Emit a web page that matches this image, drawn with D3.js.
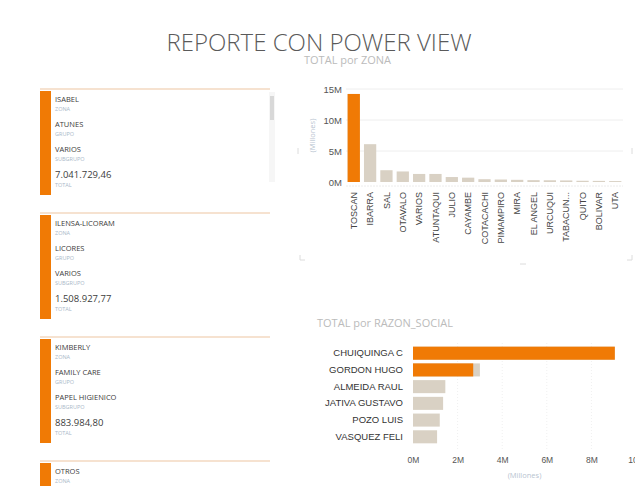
<!DOCTYPE html>
<html lang="es">
<head>
  <meta charset="UTF-8">
  <title>Reporte con Power View</title>
  <style>
    * { padding: 0; margin: 0; }
    html, body { width: 100%; height: 100%; background: #fff; }
    svg { display: block; font-family: "Open Sans", "DejaVu Sans", sans-serif; }
    .tick line { stroke: none; }
    .domain { display: none; }
  </style>
</head>
<body>
  <svg id="svg"></svg>
  <script src="https://cdnjs.cloudflare.com/ajax/libs/d3/7.8.5/d3.min.js"></script>
  <script>
    // tarjetas
    const cardZona = ['ISABEL', 'ILENSA-LICORAM', 'KIMBERLY', 'OTROS']
    const cardGrupo = ['ATUNES', 'LICORES', 'FAMILY CARE']
    const cardSubgrupo = ['VARIOS', 'VARIOS', 'PAPEL HIGIENICO']
    const cardTotal = ['7.041.729,46', '1.508.927,77', '883.984,80']

    // TOTAL por ZONA (millones)
    const zonas = ['TOSCAN', 'IBARRA', 'SAL', 'OTAVALO', 'VARIOS', 'ATUNTAQUI', 'JULIO', 'CAYAMBE', 'COTACACHI',
      'PIMAMPIRO', 'MIRA', 'EL ANGEL', 'URCUQUI', 'TABACUN...', 'QUITO', 'BOLIVAR', 'UTA']
    const zonaTotal = [14.2, 6.1, 1.9, 1.7, 1.3, 1.3, 0.8, 0.7, 0.45, 0.4, 0.35, 0.3, 0.28, 0.25, 0.2, 0.18, 0.15]
    const zonaHighlight = [14.2, 0, 0, 0, 0, 0, 0, 0, 0, 0, 0, 0, 0, 0, 0, 0, 0]
    const zonaTicks = [0, 5, 10, 15]

    // TOTAL por RAZON_SOCIAL (millones)
    const razones = ['CHUIQUINGA C', 'GORDON HUGO', 'ALMEIDA RAUL', 'JATIVA GUSTAVO', 'POZO  LUIS', 'VASQUEZ FELI']
    const razonTotal = [9.05, 3.0, 1.45, 1.35, 1.2, 1.08]
    const razonHighlight = [9.05, 2.7, 0, 0, 0, 0]
    const razonTicks = [0, 2, 4, 6, 8, 10]

    const orange = '#f07a05'
    const beige = '#d9d1c4'

    const svg = d3.select('#svg').attr('width', 635).attr('height', 486)

    svg.append('text')
      .attr('x', 319).attr('y', 51)
      .attr('text-anchor', 'middle')
      .attr('font-size', 24)
      .attr('font-weight', 300)
      .attr('fill', '#5a5a5a')
      .text('REPORTE CON POWER VIEW')

    // ---- tarjetas ----
    const cards = svg.append('g').attr('id', 'cards')
    cardZona.forEach((zona, i) => {
      const top = 89 + i * 124
      const g = cards.append('g').attr('transform', `translate(0, ${top})`)
      g.append('line').attr('x1', 40).attr('x2', 270).attr('y1', 0).attr('y2', 0)
        .attr('stroke', '#f3d9c0').attr('stroke-width', 1.5)
      g.append('rect').attr('x', 40).attr('y', 2).attr('width', 11)
        .attr('height', i < 3 ? 104 : 30).attr('fill', orange)
      const rows = [[zona, 'ZONA'], [cardGrupo[i], 'GRUPO'], [cardSubgrupo[i], 'SUBGRUPO'], [cardTotal[i], 'TOTAL']]
      rows.forEach(([v, lab], j) => {
        if (v === undefined) return
        const y = 13 + j * 25 + (j === 3 ? 1 : 0)
        g.append('text').attr('x', 55).attr('y', y)
          .attr('font-size', j === 3 ? 9.5 : 7.5).attr('fill', '#3c3c3c').text(v)
        g.append('text').attr('x', 55).attr('y', y + 9)
          .attr('font-size', 5.5).attr('fill', '#a9b8c8').text(lab)
      })
    })
    // barra de desplazamiento
    cards.append('rect').attr('x', 269).attr('y', 92).attr('width', 6).attr('height', 90).attr('fill', '#f6f6f6')
    cards.append('rect').attr('x', 270).attr('y', 96).attr('width', 4).attr('height', 24).attr('fill', '#d8d8d8')

    // ---- TOTAL por ZONA ----
    const col = svg.append('g').attr('id', 'zona')
    col.append('text').attr('x', 304).attr('y', 64).attr('font-size', 11).attr('fill', '#bbbbbb')
      .text('TOTAL por ZONA')

    const xZ = d3.scaleBand().domain(zonas).range([346, 623]).paddingInner(0.25).paddingOuter(0.1)
    const yZ = d3.scaleLinear().domain([0, 15]).range([182, 89])

    col.append('g').selectAll('line').data(zonaTicks.slice(1)).join('line')
      .attr('x1', 346).attr('x2', 623).attr('y1', d => yZ(d)).attr('y2', d => yZ(d))
      .attr('stroke', '#eeeeee')
    col.append('line').attr('x1', 346).attr('x2', 623).attr('y1', yZ(0) + 4).attr('y2', yZ(0) + 4)
      .attr('stroke', '#ececec').attr('stroke-dasharray', '2,1')

    col.append('g').selectAll('rect').data(zonaTotal).join('rect')
      .attr('x', (d, i) => xZ(zonas[i])).attr('width', xZ.bandwidth())
      .attr('y', d => yZ(d)).attr('height', d => yZ(0) - yZ(d))
      .attr('fill', beige)
    col.append('g').selectAll('rect').data(zonaHighlight).join('rect')
      .attr('x', (d, i) => xZ(zonas[i])).attr('width', xZ.bandwidth())
      .attr('y', d => yZ(d)).attr('height', d => yZ(0) - yZ(d))
      .attr('fill', orange)

    col.append('g').attr('transform', 'translate(342, 0)')
      .call(d3.axisLeft(yZ).tickValues(zonaTicks).tickSize(0).tickPadding(0).tickFormat(d => d + 'M'))
      .call(g => g.selectAll('text').attr('font-size', 9.5).attr('fill', '#555').attr('font-family', 'inherit'))

    col.append('g').attr('transform', `translate(0, ${yZ(0) + 4})`)
      .call(d3.axisBottom(xZ).tickSize(0).tickPadding(0))
      .call(g => g.selectAll('text')
        .attr('transform', 'rotate(-90)')
        .attr('text-anchor', 'end')
        .attr('x', -6).attr('y', 0).attr('dy', '0.35em')
        .attr('font-size', 9).attr('fill', '#444').attr('font-family', 'inherit'))

    col.append('text').attr('transform', `translate(315, ${yZ(7.5)}) rotate(-90)`)
      .attr('text-anchor', 'middle').attr('font-size', 7.5).attr('fill', '#b8c4d0').text('(Millones)')

    // marcas del marco
    const frame = svg.append('g').attr('stroke', '#dcdcdc')
    frame.append('path').attr('d', 'M300,255 v5 h5 M632,255 v5 h-5 M298,148 v6 M632,148 v6 M520,264 h6')
      .attr('fill', 'none')

    // ---- TOTAL por RAZON_SOCIAL ----
    const bar = svg.append('g').attr('id', 'razon')
    bar.append('text').attr('x', 317).attr('y', 327).attr('font-size', 11).attr('fill', '#bbbbbb')
      .text('TOTAL por RAZON_SOCIAL')

    const xR = d3.scaleLinear().domain([0, 10]).range([413, 636])
    const yR = d3.scaleBand().domain(razones).range([343, 447]).padding(0.22)

    bar.append('g').selectAll('line').data(razonTicks.slice(1)).join('line')
      .attr('x1', d => xR(d)).attr('x2', d => xR(d)).attr('y1', 343).attr('y2', 450)
      .attr('stroke', '#f0f0f0').attr('stroke-dasharray', '1,2')

    bar.append('g').selectAll('rect').data(razonTotal).join('rect')
      .attr('x', xR(0)).attr('y', (d, i) => yR(razones[i]))
      .attr('width', d => xR(d) - xR(0)).attr('height', yR.bandwidth())
      .attr('fill', beige)
    bar.append('g').selectAll('rect').data(razonHighlight).join('rect')
      .attr('x', xR(0)).attr('y', (d, i) => yR(razones[i]))
      .attr('width', d => xR(d) - xR(0)).attr('height', yR.bandwidth())
      .attr('fill', orange)

    bar.append('g').attr('transform', 'translate(403, 0)')
      .call(d3.axisLeft(yR).tickSize(0).tickPadding(0))
      .call(g => g.selectAll('text').attr('font-size', 9.5).attr('fill', '#333').attr('font-family', 'inherit'))

    bar.append('g').attr('transform', 'translate(0, 457)')
      .call(d3.axisBottom(xR).tickValues(razonTicks).tickSize(0).tickPadding(0).tickFormat(d => d + 'M'))
      .call(g => g.selectAll('text').attr('font-size', 8.5).attr('fill', '#555').attr('font-family', 'inherit'))

    bar.append('text').attr('x', xR(5)).attr('y', 478).attr('text-anchor', 'middle')
      .attr('font-size', 7.5).attr('fill', '#b8c4d0').text('(Millones)')
  </script>
</body>
</html>
